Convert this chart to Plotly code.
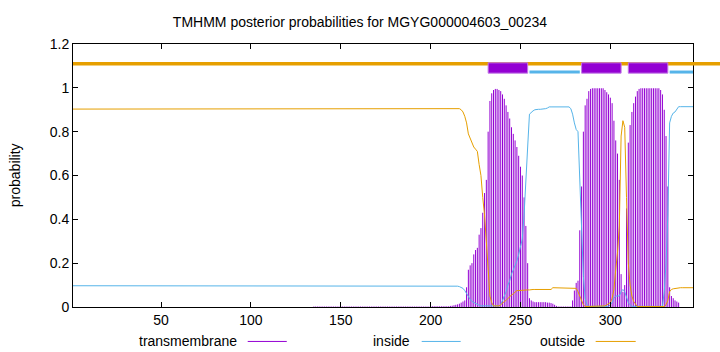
import plotly.graph_objects as go

# ---------------- data ----------------
n_res = 346
residues = list(range(1, n_res + 1))

# transmembrane posterior probability, residues 1..346
tm_prob = (
    [0.0] * 134            # 1-134
    + [0.002] * 65         # 135-199
    + [0.003] * 11         # 200-210
    + [0.005, 0.006, 0.008, 0.01, 0.012, 0.015, 0.02, 0.025, 0.03, 0.09,   # 211-220
       0.17, 0.19, 0.2, 0.24, 0.26, 0.27, 0.33, 0.36, 0.43, 0.52,          # 221-230
       0.58, 0.8, 0.94, 0.975, 0.99, 0.995, 0.995, 0.99, 0.985, 0.97,      # 231-240
       0.95, 0.92, 0.89, 0.86, 0.82, 0.79, 0.76, 0.73, 0.69, 0.64,         # 241-250
       0.6, 0.5, 0.37, 0.2, 0.04, 0.03, 0.025, 0.022, 0.022, 0.022,        # 251-260
       0.022, 0.022, 0.022, 0.022, 0.02, 0.02, 0.018, 0.015, 0.01, 0.005,  # 261-270
       0.002, 0.002, 0.002, 0.002, 0.002, 0.002, 0.002, 0.002, 0.03, 0.075,  # 271-280
       0.11, 0.12, 0.35, 0.55, 0.8, 0.92, 0.95, 0.985, 0.995, 0.998,       # 281-290
       0.998, 0.998, 0.998, 0.998, 0.998, 0.998, 0.99, 0.98, 0.97, 0.955,  # 291-300
       0.93, 0.85, 0.76, 0.7, 0.58, 0.15, 0.07, 0.1, 0.45, 0.75,           # 301-310
       0.83, 0.89, 0.93, 0.96, 0.985, 0.995]                               # 311-316
    + [0.998] * 11         # 317-327
    + [0.99, 0.97, 0.9, 0.78, 0.55, 0.09, 0.05, 0.04, 0.03, 0.025, 0.02]  # 328-338
    + [0.0] * 8            # 339-346
)

inside_prob = (
    [0.097] * 132          # 1-132
    + [0.095] * 83         # 133-215
    + [0.093, 0.09, 0.085, 0.075, 0.06, 0.045, 0.035, 0.025, 0.02, 0.015,  # 216-225
       0.01, 0.008]                                                         # 226-227
    + [0.005] * 11         # 228-238
    + [0.01, 0.03, 0.05, 0.07, 0.1, 0.12, 0.15, 0.17, 0.19, 0.21,          # 239-248
       0.24, 0.27, 0.31, 0.42, 0.55, 0.73, 0.88, 0.89, 0.895, 0.9]         # 249-258
    + [0.902] * 5          # 259-263
    + [0.905, 0.908]       # 264-265
    + [0.913] * 12         # 266-277
    + [0.905, 0.88, 0.84, 0.81, 0.8, 0.6, 0.42, 0.14, 0.04, 0.01]          # 278-287
    + [0.003] * 12         # 288-299
    + [0.01, 0.02, 0.04, 0.05, 0.05, 0.05, 0.07, 0.08, 0.07, 0.04,         # 300-309
       0.02, 0.01]                                                          # 310-311
    + [0.003] * 18         # 312-329
    + [0.07, 0.2, 0.42, 0.84, 0.87, 0.885, 0.89, 0.9]                      # 330-337
    + [0.914] * 9          # 338-346
)

outside_prob = (
    [0.903] * 150          # 1-150
    + [0.905] * 66         # 151-216
    + [0.9, 0.89, 0.87, 0.84, 0.79, 0.77, 0.75, 0.73, 0.72, 0.71,          # 217-226
       0.65, 0.6, 0.5, 0.42, 0.3, 0.15, 0.05, 0.02]                        # 227-234
    + [0.005] * 4          # 235-238
    + [0.01, 0.02, 0.025, 0.03, 0.04, 0.05, 0.055, 0.06, 0.07, 0.075,      # 239-248
       0.075, 0.076]                                                        # 249-250
    + [0.078] * 5          # 251-255
    + [0.08] * 12          # 256-267
    + [0.088] * 13         # 268-280
    + [0.085, 0.07, 0.05, 0.03, 0.01]                                      # 281-285
    + [0.002] * 11         # 286-296
    + [0.005, 0.01, 0.015, 0.02, 0.04, 0.08, 0.17, 0.25, 0.37, 0.78,       # 297-306
       0.85, 0.82, 0.5, 0.2, 0.1, 0.05, 0.025, 0.01]                       # 307-314
    + [0.002] * 16         # 315-330
    + [0.01, 0.03, 0.07, 0.08, 0.083, 0.085, 0.087]                        # 331-337
    + [0.088] * 9          # 338-346
)

# predicted topology (start, end)
tm_segments = [(232, 254), (284, 306), (310, 332)]
inside_segments = [(255, 283), (333, 346)]

title_text = "TMHMM posterior probabilities for MGYG000004603_00234"
x_ticks = [50, 100, 150, 200, 250, 300]
y_ticks = [0, 0.2, 0.4, 0.6, 0.8, 1.0, 1.2]
y_tick_labels = ["0", "0.2", "0.4", "0.6", "0.8", "1", "1.2"]
legend_names = ["transmembrane", "inside", "outside"]

assert len(tm_prob) == n_res and len(inside_prob) == n_res and len(outside_prob) == n_res

# ---------------- styling ----------------
C_TM = "#9400D3"
C_IN = "#56B4E9"
C_OUT = "#E69F00"
FONT = "Liberation Sans, Arial, sans-serif"

# impulses (gnuplot "with impulses"): one vertical segment per residue
imp_x, imp_y = [], []
for r, v in zip(residues, tm_prob):
    imp_x += [r, r, None]
    imp_y += [0, v, None]

fig = go.Figure()
fig.add_trace(go.Scatter(x=imp_x, y=imp_y, mode="lines", connectgaps=False,
                         line=dict(color=C_TM, width=1),
                         name=legend_names[0], showlegend=False))
fig.add_trace(go.Scatter(x=residues, y=inside_prob, mode="lines",
                         line=dict(color=C_IN, width=1),
                         name=legend_names[1], showlegend=False))
fig.add_trace(go.Scatter(x=residues, y=outside_prob, mode="lines",
                         line=dict(color=C_OUT, width=1),
                         name=legend_names[2], showlegend=False))

shapes = []
# outside topology line (runs across the whole top, past the right border)
shapes.append(dict(type="line", xref="paper", yref="y", x0=0, x1=1.05,
                   y0=1.11, y1=1.11, line=dict(color=C_OUT, width=3.5), layer="above"))
for s, e in inside_segments:
    shapes.append(dict(type="line", xref="x", yref="y", x0=s, x1=e,
                       y0=1.072, y1=1.072, line=dict(color=C_IN, width=3), layer="above"))
for s, e in tm_segments:
    shapes.append(dict(type="rect", xref="x", yref="y", x0=s, x1=e,
                       y0=1.067, y1=1.114, fillcolor=C_TM,
                       line=dict(color="#c27be6", width=1), layer="above"))

# legend drawn gnuplot-style: text followed by a sample line
legend_y = -0.131
legend_items = [(legend_names[0], 0.267, 0.2818, 0.3448, C_TM),
                (legend_names[1], 0.5463, 0.5624, 0.6253, C_IN),
                (legend_names[2], 0.8285, 0.843, 0.9076, C_OUT)]
annotations = []
for name, tx, sx0, sx1, col in legend_items:
    annotations.append(dict(text=name, xref="paper", yref="paper", x=tx, y=legend_y,
                            xanchor="right", yanchor="middle", showarrow=False,
                            font=dict(size=14, color="#000000", family=FONT)))
    shapes.append(dict(type="line", xref="paper", yref="paper", x0=sx0, x1=sx1,
                       y0=legend_y, y1=legend_y, line=dict(color=col, width=1)))

annotations.append(dict(text="probability", xref="paper", yref="paper",
                        x=(15 - 73.3) / 620, y=0.5, textangle=-90,
                        xanchor="center", yanchor="middle", showarrow=False,
                        font=dict(size=14, color="#000000", family=FONT)))

fig.update_layout(
    width=720, height=352,
    margin=dict(l=73, r=27, t=44, b=45),
    paper_bgcolor="white", plot_bgcolor="white",
    font=dict(family=FONT, size=14, color="#000000"),
    title=dict(text=title_text, x=0.5, xref="container", xanchor="center",
               y=1 - 22 / 352, yanchor="middle", font=dict(size=14, family=FONT)),
    showlegend=False,
    shapes=shapes, annotations=annotations,
)
fig.update_xaxes(range=[1, 346], tickvals=x_ticks, ticks="inside", ticklen=5,
                 tickcolor="#000000", showline=True, linecolor="#000000", linewidth=1,
                 mirror="allticks", showgrid=False, zeroline=False)
fig.update_yaxes(range=[0, 1.2], tickvals=y_ticks, ticktext=y_tick_labels,
                 ticks="inside", ticklen=5, tickcolor="#000000",
                 showline=True, linecolor="#000000", linewidth=1,
                 mirror="allticks", showgrid=False, zeroline=False)

fig.write_html("out.html")
